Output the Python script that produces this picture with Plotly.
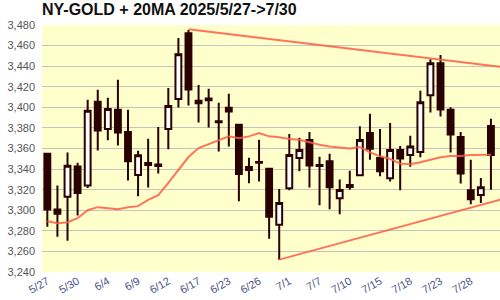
import plotly.graph_objects as go

dates = ["5/27","5/28","5/29","5/30","6/2","6/3","6/4","6/5","6/6","6/9",
         "6/10","6/11","6/12","6/13","6/16","6/17","6/18","6/20","6/23","6/24",
         "6/25","6/26","6/27","6/30","7/1","7/2","7/3","7/7","7/8","7/9",
         "7/10","7/11","7/14","7/15","7/16","7/17","7/18","7/21","7/22","7/23",
         "7/24","7/25","7/28","7/29","7/30"]
open_ = [3355,3300.7,3313,3342.4,3324,3405.4,3378.9,3397.6,3376,3334.3,
         3346,3344.5,3378.9,3408,3471.9,3404,3408.6,3386.5,3399.5,3383,
         3339.1,3347,3340.4,3285.8,3321.4,3350.8,3368.2,3344,3347.7,3311.7,
         3322.6,3334,3375,3350.8,3331.2,3358.5,3353.7,3356.6,3411.8,3442.8,
         3397.6,3371.1,3319.4,3314.9,3381.8]
high = [3355.5,3324,3356,3346.2,3407.3,3417,3409.2,3426.7,3397.6,3357.7,
        3369.5,3380.8,3418.9,3467.4,3475.2,3421.8,3418,3404.4,3413.1,3383.7,
        3351,3368.4,3340.8,3320.7,3374.2,3370.5,3376.1,3352,3354.8,3329.8,
        3338.5,3381.5,3393.7,3378.9,3384.7,3362.5,3372.4,3416,3446.7,3450.9,
        3400.2,3376,3349,3331.4,3388.9]
low = [3284,3274.2,3270.3,3295,3321.6,3358,3367.9,3363,3329,3313.6,
       3322,3335.6,3359.2,3399.9,3401.8,3385.3,3380.5,3357.2,3362,3308.8,
       3326.2,3328,3272.2,3252,3319.4,3337.8,3322.2,3304.9,3301,3296,
       3320,3333,3349,3333,3328,3319.4,3342.2,3351.4,3395,3391,
       3356,3326,3305.8,3307,3320]
close = [3300.7,3296.5,3343.3,3316.8,3396.6,3377.6,3398.3,3375.5,3347.6,3353.5,
         3344,3343,3401.2,3451.6,3417.3,3406.3,3407,3385.5,3396,3335.3,
         3342,3346.2,3293.6,3307.1,3353.7,3358.6,3343.6,3343,3322.3,3319.6,
         3324.6,3368.2,3359.8,3337.8,3358.6,3350.4,3362,3405,3442.8,3397.9,
         3373.7,3335.7,3310.7,3322.3,3353.7]
ma20 = [3289.4,3287.4,3288.4,3292.3,3300,3303,3302,3301,3303,3304,
        3310,3314.6,3326.5,3338.8,3351.7,3360.4,3364.3,3368.5,3371.8,3370,
        3371.8,3375,3371.8,3371,3369.2,3368.5,3366,3363.7,3362,3360.8,
        3360,3361.4,3356.3,3352.4,3349.8,3345.3,3344.6,3346.6,3349.1,3351.4,
        3352.7,3352.7,3353.7,3354,3354]
upper_x = [14, 45]
upper_y = [3475.8, 3439.3]
lower_x = [23, 45]
lower_y = [3252, 3310.5]
tick_idx = list(range(0, 45, 3))
tick_text = [dates[i] for i in tick_idx]

idx = list(range(len(dates)))
dark = "#2a0000"
red = "rgba(255,90,70,0.85)"

fig = go.Figure()
fig.add_trace(go.Scatter(x=idx, y=ma20, mode="lines", line=dict(color=red, width=2), hoverinfo="skip"))
fig.add_trace(go.Scatter(x=upper_x, y=upper_y, mode="lines", line=dict(color=red, width=2), hoverinfo="skip"))
fig.add_trace(go.Scatter(x=lower_x, y=lower_y, mode="lines", line=dict(color=red, width=2), hoverinfo="skip"))
fig.add_trace(go.Candlestick(
    x=idx, open=open_, high=high, low=low, close=close,
    increasing=dict(line=dict(color=dark, width=2), fillcolor="white"),
    decreasing=dict(line=dict(color=dark, width=2), fillcolor=dark),
    whiskerwidth=0,
))

fig.update_layout(
    width=500, height=300,
    margin=dict(l=42, r=0, t=25, b=28),
    paper_bgcolor="white", plot_bgcolor="#ffffcc",
    showlegend=False,
    boxgap=0.17,
    title=dict(text="<b>NY-GOLD + 20MA 2025/5/27->7/30</b>", x=0, xref="paper", xanchor="left",
               y=1, yref="container", yanchor="top", pad=dict(t=4),
               font=dict(family="Liberation Sans", size=16, color="#111")),
    xaxis=dict(range=[-0.53, 44.9], tickmode="array", tickvals=tick_idx, ticktext=tick_text,
               tickangle=-30, showgrid=False, zeroline=False, showline=False,
               rangeslider=dict(visible=False),
               tickfont=dict(family="Liberation Sans", size=11, color="#4a4f88")),
    yaxis=dict(range=[3240, 3480], dtick=20, tickformat=",", showgrid=True, gridcolor="#c4c4c4",
               gridwidth=1, zeroline=False, ticks="", ticklen=0, ticklabelstandoff=6,
               tickfont=dict(family="Liberation Sans", size=11, color="#555")),
)
fig.write_html("out.html")
